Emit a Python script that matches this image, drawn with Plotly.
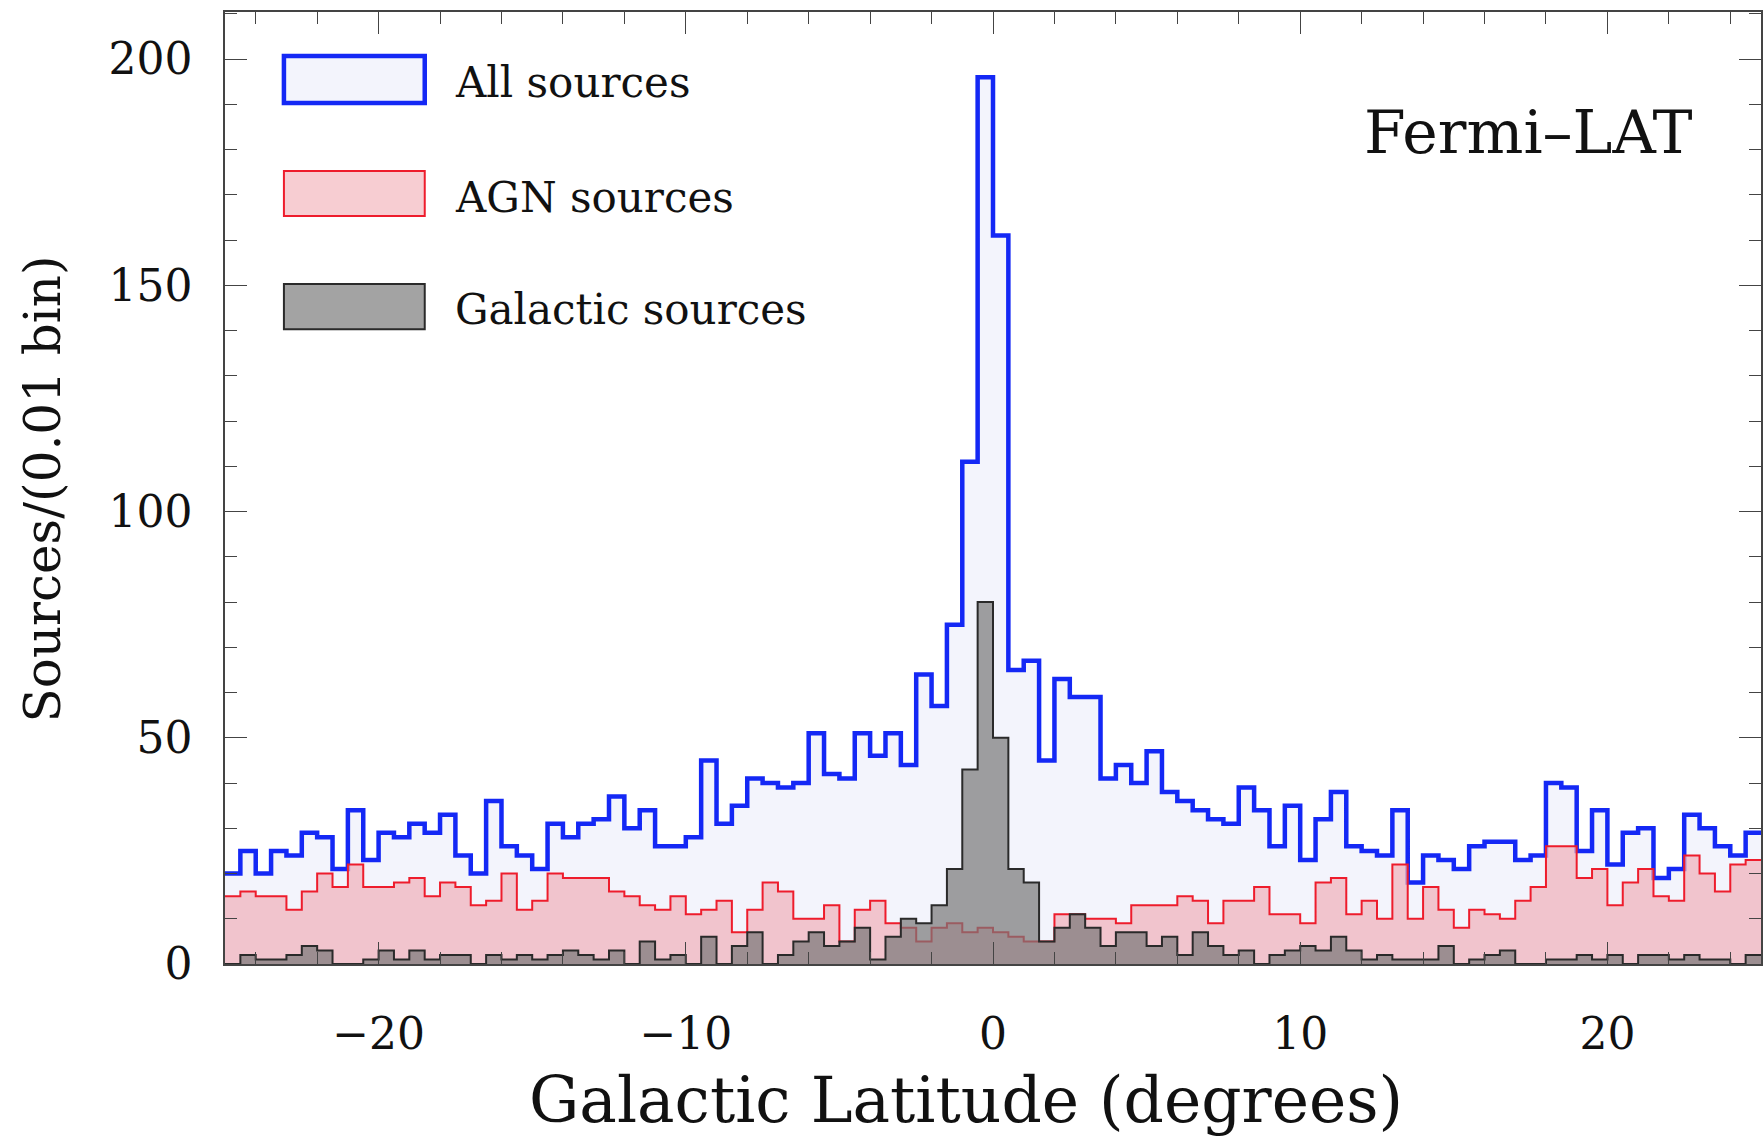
import numpy as np
import plotly.graph_objects as go

# Histogram bins: 0.5 degree wide from -25 to 25 (100 bins)
bin_edges = np.arange(-25.0, 25.0001, 0.5)

all_sources = [
    20, 25, 20, 25, 24, 29, 28, 21, 34, 23, 29, 28, 31, 29, 33, 24, 20, 36,
    26, 24, 21, 31, 28, 31, 32, 37, 30, 34, 26, 26, 28, 45, 31, 35,
    41, 40, 39, 40, 51, 42, 41, 51, 46, 51, 44, 64, 57,
    75, 111, 196, 161,
    65, 67, 45, 63, 59, 59, 41, 44, 40, 47, 38, 36, 34, 32, 31, 39, 34,
    26, 35, 23, 32, 38, 26, 25, 24, 34, 18, 24, 23, 21, 26, 27, 27, 23,
    24, 40, 39, 25, 34, 22, 29, 30, 19, 21, 33, 30, 26, 24, 29,
]

agn_sources = [
    15, 16, 15, 15, 12, 16, 20, 17, 22, 17, 17, 18, 19, 15, 18, 17, 13, 14,
    20, 12, 14, 20, 19, 19, 19, 16, 15, 13, 12, 15, 11, 12, 14, 7,
    12, 18, 16, 10, 10, 13, 5, 12, 14, 9, 8, 5, 8, 9, 7, 8, 7,
    6, 5, 5, 11, 11, 10, 10, 9, 13, 13, 13, 15, 14, 9, 14, 14, 17,
    11, 11, 9, 18, 19, 11, 14, 10, 22, 10, 17, 12, 8, 12, 11, 10, 14,
    17, 26, 26, 19, 21, 13, 18, 21, 15, 14, 24, 20, 16, 22, 23,
]

galactic_sources = [
    0, 2, 1, 1, 2, 4, 3, 0, 0, 1, 3, 1, 3, 1, 2, 2, 0, 2,
    1, 2, 1, 2, 3, 2, 1, 3, 0, 5, 1, 2, 0, 6, 0, 4,
    7, 0, 2, 5, 7, 4, 5, 8, 1, 6, 10, 9, 13, 21, 43, 80, 50,
    21, 18, 5, 8, 11, 8, 4, 7, 7, 4, 6, 2, 7, 4, 2, 3, 0,
    2, 3, 4, 3, 6, 3, 1, 2, 1, 1, 1, 4, 0, 1, 2, 3, 0,
    0, 1, 1, 2, 1, 2, 0, 2, 2, 1, 2, 1, 1, 0, 2,
]

series_names = ["All sources", "AGN sources", "Galactic sources"]
x_ticks = [-20, -10, 0, 10, 20]
y_ticks = [0, 50, 100, 150, 200]

BLUE = "#1428f5"
BLUE_FILL = "#f3f4fc"
RED = "#ee1c2c"
RED_FILL = "rgba(240,175,185,0.7)"
GRAY_LINE = "#2a2a2a"
GRAY_FILL = "rgba(120,120,120,0.7)"
FONT = "DejaVu Serif"


def step_y(vals):
    return list(vals) + [vals[-1]]


fig = go.Figure()
fig.add_trace(go.Scatter(
    x=bin_edges, y=step_y(all_sources), mode="lines", name=series_names[0],
    line=dict(shape="hv", color=BLUE, width=4.5),
    fill="tozeroy", fillcolor=BLUE_FILL, showlegend=False))
fig.add_trace(go.Scatter(
    x=bin_edges, y=step_y(agn_sources), mode="lines", name=series_names[1],
    line=dict(shape="hv", color=RED, width=2),
    fill="tozeroy", fillcolor=RED_FILL, showlegend=False))
fig.add_trace(go.Scatter(
    x=bin_edges, y=step_y(galactic_sources), mode="lines", name=series_names[2],
    line=dict(shape="hv", color=GRAY_LINE, width=2),
    fill="tozeroy", fillcolor=GRAY_FILL, showlegend=False))

PH = 951.6  # plot height in px
PW = 1538.0


def px_y(y):
    return 1 - (y - 12) / PH


def px_x(x):
    return (x - 225) / PW


shapes = []
annotations = []
legend_rows = [
    (56, 103, BLUE, BLUE_FILL, 4.5, 82),
    (171, 216, RED, "rgb(247,205,210)", 2, 197),
    (284, 329, GRAY_LINE, "rgb(163,163,163)", 2, 309),
]
for name, (top, bot, lc, fc, lw, ty) in zip(series_names, legend_rows):
    shapes.append(dict(type="rect", xref="paper", yref="paper",
                       x0=px_x(284), x1=px_x(425), y0=px_y(bot), y1=px_y(top),
                       line=dict(color=lc, width=lw), fillcolor=fc, layer="above"))
    annotations.append(dict(text=name, xref="paper", yref="paper",
                            x=px_x(453), y=px_y(ty), xanchor="left", yanchor="middle",
                            showarrow=False, font=dict(family=FONT, size=42, color="#111")))

annotations.append(dict(text="Fermi–LAT", xref="paper", yref="paper",
                        x=px_x(1530), y=px_y(132), xanchor="center", yanchor="middle",
                        showarrow=False, font=dict(family=FONT, size=60, color="#111")))
annotations.append(dict(text="Galactic Latitude (degrees)", xref="paper", yref="paper",
                        x=px_x(967), y=px_y(1100), xanchor="center", yanchor="middle",
                        showarrow=False, font=dict(family=FONT, size=63, color="#111")))
annotations.append(dict(text="Sources/(0.01 bin)", xref="paper", yref="paper",
                        x=px_x(43), y=px_y(489), xanchor="center", yanchor="middle",
                        textangle=-90, showarrow=False,
                        font=dict(family=FONT, size=50, color="#111")))

axis_common = dict(showline=True, linecolor="#444", linewidth=1.5, mirror="ticks",
                   ticks="inside", ticklen=22, tickwidth=1.3, tickcolor="#444",
                   showgrid=False, zeroline=False,
                   tickfont=dict(family=FONT, size=44, color="#111"))

fig.update_layout(
    width=1763, height=1141,
    margin=dict(l=225, r=0, t=12, b=177),
    paper_bgcolor="white", plot_bgcolor="white",
    shapes=shapes, annotations=annotations,
    xaxis=dict(range=[-25, 25], tickvals=x_ticks, ticklabelstandoff=30,
               minor=dict(dtick=2, tick0=0, ticks="inside", ticklen=12,
                          tickwidth=1.2, tickcolor="#444"),
               **axis_common),
    yaxis=dict(range=[0, 210.4], tickvals=y_ticks, ticklabelstandoff=22,
               minor=dict(dtick=10, tick0=0, ticks="inside", ticklen=12,
                          tickwidth=1.2, tickcolor="#444"),
               **axis_common),
)

fig.write_html("out.html")
